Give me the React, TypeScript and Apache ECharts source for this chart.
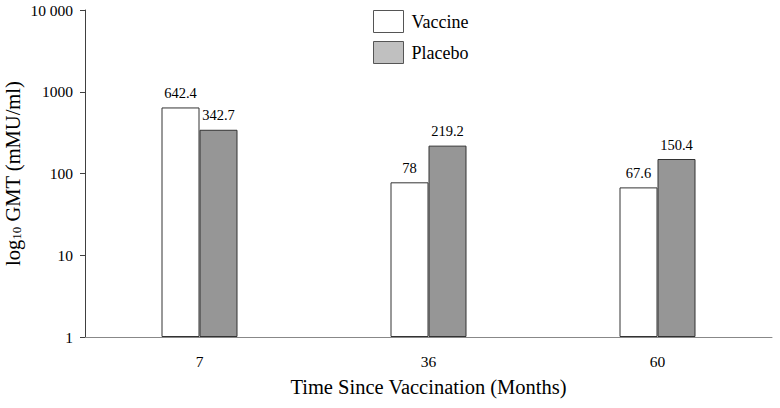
import React, { useEffect, useRef } from "react";
import * as echarts from "echarts";

const categories = ["7", "36", "60"];
const vaccineValues = [642.4, 78, 67.6];
const placeboValues = [342.7, 219.2, 150.4];
const yTicks = [1, 10, 100, 1000, 10000];
const yTickLabels = ["1", "10", "100", "1000", "10 000"];

const FONT = "'Liberation Serif', 'Times New Roman', serif";

export default function App() {
  const ref = useRef<HTMLDivElement>(null);
  useEffect(() => {
    if (!ref.current) return;
    const chart = echarts.init(ref.current, null, { renderer: "svg" });
    const labelFor = (v: number) => {
      const i = yTicks.indexOf(v);
      return i >= 0 ? yTickLabels[i] : "";
    };
    chart.setOption({
      animation: false,
      textStyle: { fontFamily: FONT },
      grid: {
        left: 85,
        right: 8,
        top: 10,
        bottom: 71,
        containLabel: false,
        outerBoundsMode: "none",
      },
      legend: {
        orient: "vertical",
        left: 373,
        top: 10,
        padding: 0,
        itemWidth: 30,
        itemHeight: 22,
        itemGap: 8,
        icon: "rect",
        textStyle: { fontFamily: FONT, fontSize: 18, color: "#000", padding: [0, 0, 0, 3] },
        data: [
          { name: "Vaccine", itemStyle: { color: "#ffffff", borderColor: "#555", borderWidth: 1 } },
          { name: "Placebo", itemStyle: { color: "#c0c0c0", borderColor: "#555", borderWidth: 1 } },
        ],
      },
      xAxis: {
        type: "category",
        data: categories,
        name: "Time Since Vaccination (Months)",
        nameLocation: "middle",
        nameGap: 39,
        nameMoveOverlap: false,
        nameTextStyle: { fontFamily: FONT, fontSize: 20.5, color: "#000" },
        axisLine: { lineStyle: { color: "#888", width: 1 } },
        axisTick: { show: false },
        axisLabel: { margin: 16, fontFamily: FONT, fontSize: 15.5, color: "#000" },
      },
      yAxis: {
        type: "log",
        logBase: 10,
        min: 1,
        max: 10000,
        name: "{a|log}{b|10}{a| GMT (mMU/ml)}",
        nameLocation: "middle",
        nameGap: 62,
        nameMoveOverlap: false,
        nameTextStyle: {
          fontFamily: FONT,
          color: "#000",
          rich: {
            a: { fontFamily: FONT, fontSize: 20.5, color: "#000" },
            b: { fontFamily: FONT, fontSize: 13, color: "#000", padding: [8, 0, 0, 0] },
          },
        },
        axisLine: { show: true, lineStyle: { color: "#404040", width: 1 } },
        axisTick: { show: true, length: 5, inside: false, lineStyle: { color: "#404040" } },
        axisLabel: {
          margin: 12,
          fontFamily: FONT,
          fontSize: 15.5,
          color: "#000",
          formatter: (v: number) => labelFor(Math.round(v)),
        },
        splitLine: { show: false },
      },
      series: [
        {
          name: "Vaccine",
          type: "bar",
          data: vaccineValues,
          barWidth: 38,
          barGap: "0%",
          itemStyle: { color: "#ffffff", borderColor: "#333", borderWidth: 1 },
          label: {
            show: true,
            position: "top",
            distance: 7,
            fontFamily: FONT,
            fontSize: 14.5,
            color: "#000",
          },
        },
        {
          name: "Placebo",
          type: "bar",
          data: placeboValues,
          barWidth: 38,
          barGap: "0%",
          itemStyle: { color: "#969696", borderColor: "#333", borderWidth: 1 },
          label: {
            show: true,
            position: "top",
            distance: 7,
            fontFamily: FONT,
            fontSize: 14.5,
            color: "#000",
          },
        },
      ],
    });
    return () => chart.dispose();
  }, []);
  return (
    <div
      ref={ref}
      style={{ position: "absolute", left: 0, top: 0, width: 780, height: 408 }}
    />
  );
}
